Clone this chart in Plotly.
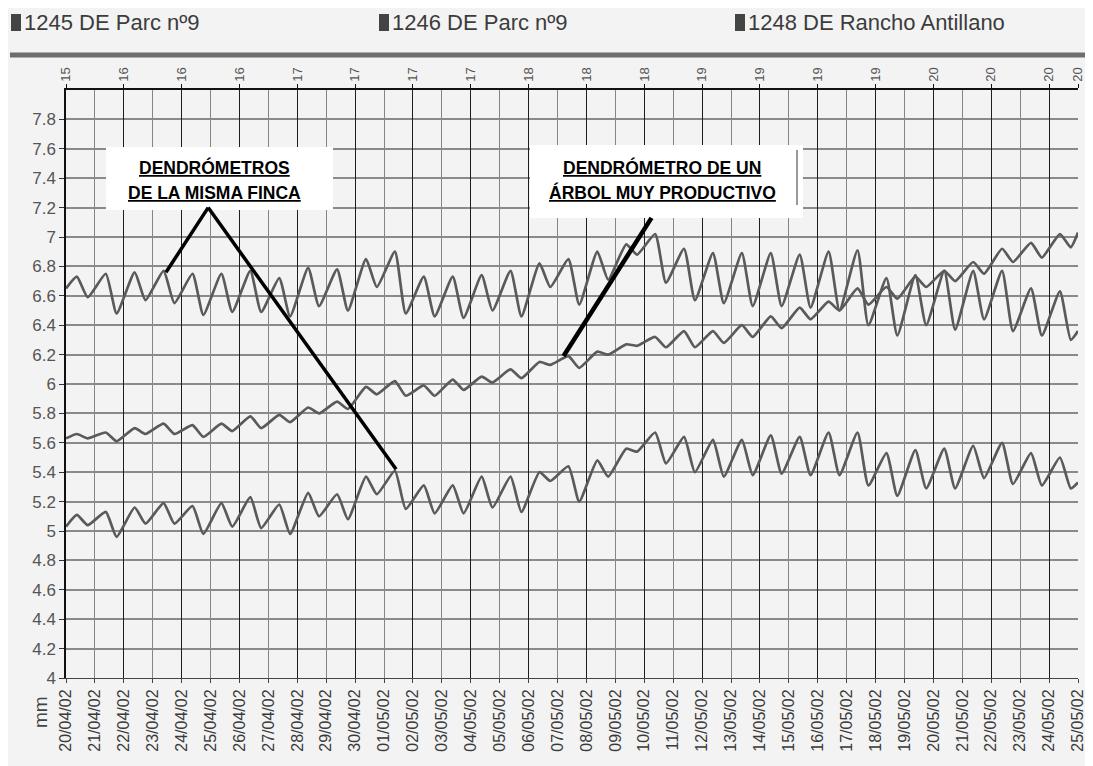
import plotly.graph_objects as go
from datetime import datetime, timedelta

# ---------------- data ----------------
START = "2002-04-20"
END = "2002-05-25"
PEAK_HOUR = 9      # approx. time of the daily maximum
TROUGH_HOUR = 18   # approx. time of the daily minimum

S1_NAME = "1245 DE Parc nº9"
S2_NAME = "1246 DE Parc nº9"
S3_NAME = "1248 DE Rancho Antillano"

# upper series (same farm)
S1_START, S1_END = 6.65, 6.36
S1_PEAK = [6.73, 6.75, 6.76, 6.77, 6.75, 6.75, 6.77, 6.72, 6.79, 6.78,
           6.85, 6.90, 6.73, 6.73, 6.74, 6.77, 6.82, 6.85, 6.90, 6.95,
           7.02, 6.92, 6.89, 6.89, 6.89, 6.88, 6.90, 6.91, 6.72, 6.74,
           6.77, 6.77, 6.77, 6.65, 6.63]
S1_TROUGH = [6.59, 6.48, 6.57, 6.55, 6.47, 6.49, 6.49, 6.46, 6.53, 6.50,
             6.66, 6.48, 6.46, 6.45, 6.50, 6.46, 6.66, 6.54, 6.71, 6.88,
             6.69, 6.57, 6.55, 6.53, 6.53, 6.52, 6.50, 6.40, 6.33, 6.40,
             6.37, 6.44, 6.36, 6.33, 6.30]

# lower series (same farm)
S2_START, S2_END = 5.03, 5.33
S2_PEAK = [5.11, 5.13, 5.16, 5.19, 5.17, 5.19, 5.23, 5.18, 5.26, 5.25,
           5.37, 5.41, 5.31, 5.31, 5.37, 5.37, 5.40, 5.44, 5.48, 5.56,
           5.67, 5.64, 5.62, 5.62, 5.65, 5.64, 5.67, 5.67, 5.53, 5.55,
           5.56, 5.58, 5.60, 5.53, 5.50]
S2_TROUGH = [5.04, 4.96, 5.05, 5.05, 4.98, 5.03, 5.02, 4.98, 5.10, 5.08,
             5.25, 5.15, 5.12, 5.12, 5.16, 5.13, 5.34, 5.20, 5.37, 5.54,
             5.46, 5.40, 5.37, 5.38, 5.39, 5.38, 5.38, 5.31, 5.24, 5.29,
             5.29, 5.36, 5.32, 5.31, 5.29]

# middle series (very productive tree)
S3_START, S3_END = 5.63, 7.03
S3_PEAK = [5.66, 5.67, 5.70, 5.73, 5.72, 5.73, 5.78, 5.79, 5.84, 5.88,
           5.98, 6.02, 5.99, 6.03, 6.05, 6.10, 6.15, 6.19, 6.22, 6.27,
           6.32, 6.36, 6.36, 6.40, 6.46, 6.52, 6.56, 6.65, 6.66, 6.73,
           6.77, 6.83, 6.92, 6.96, 7.02]
S3_TROUGH = [5.63, 5.61, 5.66, 5.66, 5.64, 5.68, 5.70, 5.74, 5.80, 5.83,
             5.93, 5.92, 5.92, 5.96, 6.01, 6.04, 6.13, 6.11, 6.20, 6.26,
             6.25, 6.25, 6.28, 6.32, 6.38, 6.44, 6.50, 6.54, 6.58, 6.66,
             6.70, 6.75, 6.83, 6.86, 6.93]

Y_TICKS = [4, 4.2, 4.4, 4.6, 4.8, 5, 5.2, 5.4, 5.6, 5.8, 6, 6.2, 6.4,
           6.6, 6.8, 7, 7.2, 7.4, 7.6, 7.8]
Y_TICK_TEXT = ["4", "4.2", "4.4", "4.6", "4.8", "5", "5.2", "5.4", "5.6",
               "5.8", "6", "6.2", "6.4", "6.6", "6.8", "7", "7.2", "7.4",
               "7.6", "7.8"]

TOP_TICK_DATES = ["2002-04-20", "2002-04-22", "2002-04-24", "2002-04-26",
                  "2002-04-28", "2002-04-30", "2002-05-02", "2002-05-04",
                  "2002-05-06", "2002-05-08", "2002-05-10", "2002-05-12",
                  "2002-05-14", "2002-05-16", "2002-05-18", "2002-05-20",
                  "2002-05-22", "2002-05-24", "2002-05-25"]
TOP_LABELS = ["15", "16", "16", "16", "17", "17", "17", "17", "18", "18",
              "18", "19", "19", "19", "19", "20", "20", "20", "20"]

ANNOT_1 = ["DENDRÓMETROS", "DE LA MISMA FINCA"]
ANNOT_2 = ["DENDRÓMETRO DE UN", "ÁRBOL MUY PRODUCTIVO"]


def build(start_v, peaks, troughs, end_v):
    t0 = datetime.strptime(START, "%Y-%m-%d")
    xs, ys = [t0], [start_v]
    for d, (p, t) in enumerate(zip(peaks, troughs)):
        day = t0 + timedelta(days=d)
        xs += [day + timedelta(hours=PEAK_HOUR), day + timedelta(hours=TROUGH_HOUR)]
        ys += [p, t]
    xs.append(datetime.strptime(END, "%Y-%m-%d"))
    ys.append(end_v)
    return xs, ys


LINE_COLOR = "#5a5a5a"
SERIES = [(S1_NAME, S1_START, S1_PEAK, S1_TROUGH, S1_END),
          (S2_NAME, S2_START, S2_PEAK, S2_TROUGH, S2_END),
          (S3_NAME, S3_START, S3_PEAK, S3_TROUGH, S3_END)]

fig = go.Figure()
for name, sv, pk, tr, ev in SERIES:
    xs, ys = build(sv, pk, tr, ev)
    fig.add_trace(go.Scatter(x=xs, y=ys, mode="lines", name=name,
                             line=dict(color=LINE_COLOR, width=2.7,
                                       shape="spline", smoothing=0.5),
                             showlegend=False))
# invisible trace so the top (secondary) date axis is drawn
fig.add_trace(go.Scatter(x=[None], y=[None], xaxis="x2", showlegend=False,
                         hoverinfo="skip"))

# ---------------- layout ----------------
# the page body adds an 8px offset, so the figure is 8px smaller
OFF = 8
W, H = 1093 - OFF, 766 - OFF
PLOT_L, PLOT_R, PLOT_T, PLOT_B = 66, 1078, 90, 678   # page pixels
L, T = PLOT_L - OFF, PLOT_T - OFF
R = (1093 - PLOT_R)
B = 766 - PLOT_B
PW, PH = PLOT_R - PLOT_L, PLOT_B - PLOT_T


def px(xp):
    return (xp - PLOT_L) / PW


def py(yp):
    return (PLOT_B - yp) / PH


BG = "#f3f3f3"
TXT = "Liberation Sans, Arial, Helvetica, sans-serif"
fig.update_layout(
    width=W, height=H,
    margin=dict(l=L, r=R, t=T, b=B, autoexpand=False),
    paper_bgcolor=BG, plot_bgcolor=BG,
    font=dict(family=TXT, color="#444444"),
    showlegend=False,
    xaxis=dict(type="date", range=[START, END], dtick=86400000, tick0=START,
               tickformat="%d/%m/%y", tickangle=-90,
               tickfont=dict(size=16, color="#3a3a3a"),
               showgrid=True, gridcolor="#858585", gridwidth=1,
               showline=True, linecolor="#444444", linewidth=1,
               ticks="outside", ticklen=4, tickcolor="#444444",
               zeroline=False, automargin=False),
    xaxis2=dict(type="date", range=[START, END], overlaying="x", side="top",
                tickmode="array", tickvals=TOP_TICK_DATES, ticktext=TOP_LABELS,
                tickangle=-90, tickfont=dict(size=13, color="#555555"),
                showgrid=True, gridcolor="#1e1e1e", gridwidth=1,
                showline=True, linecolor="#111111", linewidth=1.5,
                ticks="outside", ticklen=4, tickcolor="#111111",
                zeroline=False, automargin=False),
    yaxis=dict(range=[4, 8], tickmode="array", tickvals=Y_TICKS,
               ticktext=Y_TICK_TEXT, tickfont=dict(size=17, color="#555555"),
               showgrid=True, gridcolor="#8a8a8a", gridwidth=2,
               showline=True, linecolor="#111111", linewidth=1.5,
               ticks="outside", ticklen=5, tickcolor="#333333",
               zeroline=False, automargin=False),
)

shapes = []
annots = []
# legend (swatch + name)
for name, sq_x, tx_x in [(S1_NAME, 11, 22), (S2_NAME, 379, 390), (S3_NAME, 735, 746)]:
    shapes.append(dict(type="rect", xref="paper", yref="paper",
                       x0=px(sq_x), x1=px(sq_x + 10), y0=py(31), y1=py(14),
                       fillcolor="#444444", line=dict(width=0)))
    annots.append(dict(xref="paper", yref="paper", x=px(tx_x), y=py(23),
                       text=name, showarrow=False, xanchor="left",
                       yanchor="middle",
                       font=dict(family=TXT, size=22, color="#3c3c3c")))
# separator bar under the legend
shapes.append(dict(type="line", xref="paper", yref="paper",
                   x0=px(10), x1=px(1093), y0=py(55), y1=py(55),
                   line=dict(color="#6e6e6e", width=5)))
# white label boxes
shapes.append(dict(type="rect", xref="paper", yref="paper",
                   x0=px(106), x1=px(333), y0=py(210), y1=py(147),
                   fillcolor="white", line=dict(width=0), layer="above"))
shapes.append(dict(type="rect", xref="paper", yref="paper",
                   x0=px(530), x1=px(803), y0=py(218), y1=py(145),
                   fillcolor="white", line=dict(width=0), layer="above"))
shapes.append(dict(type="line", xref="paper", yref="paper",
                   x0=px(797), x1=px(797), y0=py(205), y1=py(150),
                   line=dict(color="#777777", width=1.5), layer="above"))
# pointer lines
shapes.append(dict(type="line", xref="x", yref="y",
                   x0="2002-04-23 11:00", y0=6.76, x1="2002-04-24 22:00", y1=7.2,
                   line=dict(color="black", width=3.5), layer="above"))
shapes.append(dict(type="line", xref="x", yref="y",
                   x0="2002-04-24 22:00", y0=7.2, x1="2002-05-01 10:00", y1=5.42,
                   line=dict(color="black", width=3.5), layer="above"))
shapes.append(dict(type="line", xref="x", yref="y",
                   x0="2002-05-07 05:00", y0=6.19, x1="2002-05-10 06:00", y1=7.13,
                   line=dict(color="black", width=4.5), layer="above"))

for txt, xp, yp in [(ANNOT_1[0], 214, 167), (ANNOT_1[1], 214, 193),
                    (ANNOT_2[0], 662, 167), (ANNOT_2[1], 662, 192)]:
    annots.append(dict(xref="paper", yref="paper", x=px(xp), y=py(yp),
                       text="<b><u>" + txt + "</u></b>", showarrow=False,
                       xanchor="center", yanchor="middle",
                       font=dict(family=TXT, size=17.5, color="black")))
annots.append(dict(xref="paper", yref="paper", x=px(40), y=py(712),
                   text="mm", textangle=-90, showarrow=False,
                   xanchor="center", yanchor="middle",
                   font=dict(family=TXT, size=19, color="#444444")))
fig.update_layout(shapes=shapes, annotations=annots)

fig.write_html("out.html")
